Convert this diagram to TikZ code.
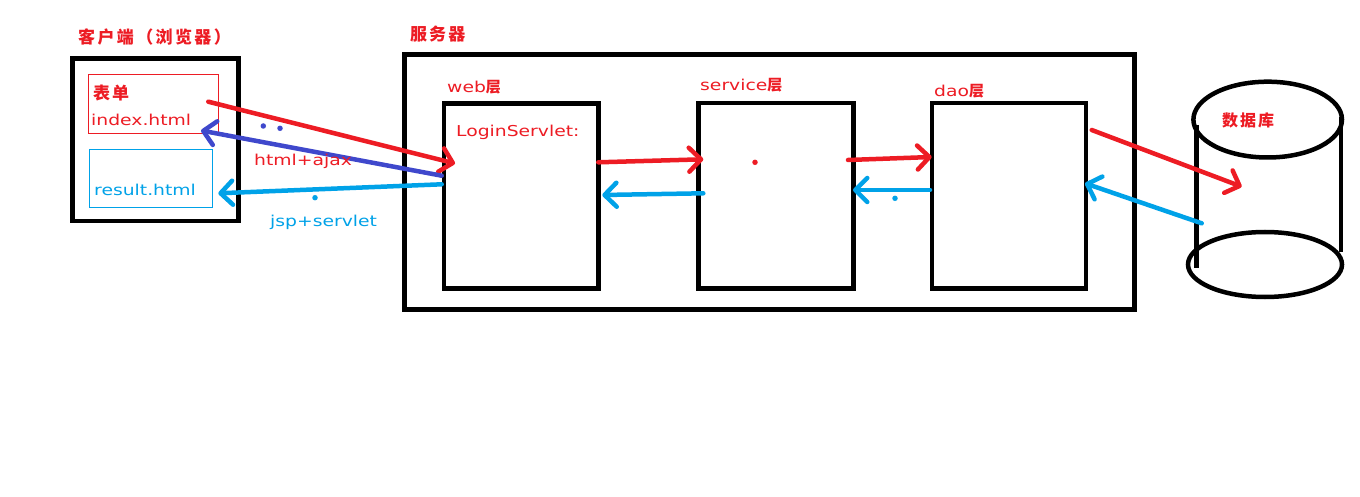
\documentclass[tikz,border=0pt]{standalone}
\usepackage{fontspec}
\setmainfont{DejaVu Sans}
\newfontfamily\latn[FakeStretch=1.25]{DejaVu Sans}
\newfontfamily\cjk[LetterSpace=12]{Noto Sans CJK SC}
\newfontfamily\cjkwide[LetterSpace=14]{Noto Sans CJK SC}
\usetikzlibrary{arrows.meta}
\definecolor{cred}{HTML}{ED1C24}
\definecolor{cblue}{HTML}{00A2E8}
\definecolor{cpurp}{HTML}{3F48CC}
\begin{document}
\begin{tikzpicture}[x=1pt,y=-1pt,
  box/.style={draw=black,line width=4.5pt,inner sep=0pt,outer sep=0pt,anchor=north west},
  thinbox/.style={draw,line width=1pt,inner sep=0pt,outer sep=0pt,anchor=north west},
  lbl/.style={inner sep=0pt,anchor=base west,font=\latn\fontsize{15}{15}\selectfont},
  cjklbl/.style={inner sep=0pt,anchor=west,text=cred,font=\cjk\bfseries\fontsize{17}{17}\selectfont},
  arr/.style={line width=4.5pt,line cap=round,-{Straight Barb[length=12pt,width=24pt,round]}},
  spot/.style={circle,fill,inner sep=0pt,minimum size=5.5pt}]
\useasboundingbox (0,0) rectangle (1360,497);
\fill[white] (0,0) rectangle (1360,497);

% client
\node[box,minimum width=165.8pt,minimum height=162.9pt] (client) at (72.5,58.3) {};
\node[thinbox,draw=cred,minimum width=130.4pt,minimum height=58.3pt] (form) at (88.3,75) {};
\node[thinbox,draw=cblue,minimum width=123.7pt,minimum height=57.7pt] (result) at (89,150) {};
\node[cjklbl,font=\cjkwide\bfseries\fontsize{17}{17}\selectfont] (clientlbl) at (78,36.7) {客户端（浏览器）};
\node[cjklbl] (formlbl) at (93,93.4) {表单};
\node[lbl,text=cred] (indexlbl) at (91,126) {index.html};
\node[lbl,text=cblue] (resultlbl) at (94,196) {result.html};

% server
\node[box,minimum width=730pt,minimum height=254.8pt] (server) at (404.7,54.5) {};
\node[cjklbl] (serverlbl) at (410,34.5) {服务器};
\node[box,minimum width=154.3pt,minimum height=184.6pt] (web) at (444,103.7) {};
\node[box,minimum width=154.6pt,minimum height=185.3pt] (service) at (698.7,103) {};
\node[box,minimum width=154pt,minimum height=185.3pt] (dao) at (932,103) {};
\node[lbl,text=cred] (weblbl) at (447,92.5) {web{\cjk\bfseries\fontsize{15}{15}\selectfont 层}};
\node[lbl,text=cred] (servicelbl) at (700,91) {service{\cjk\bfseries\fontsize{15}{15}\selectfont 层}};
\node[lbl,text=cred] (daolbl) at (934,97) {dao{\cjk\bfseries\fontsize{15}{15}\selectfont 层}};
\node[lbl,text=cred] (loginlbl) at (456,137) {LoginServlet:};

% database
\draw[line width=4.5pt] (1267.7,119.6) ellipse [x radius=74.3, y radius=37.9];
\draw[line width=4.5pt] (1265,264.5) ellipse [x radius=77, y radius=32.5];
\draw[line width=4.5pt] (1196.7,125) -- (1196.7,268);
\draw[line width=4.5pt] (1341,116.7) -- (1341,251.7);
\node[cjklbl,font=\cjk\bfseries\fontsize{16}{16}\selectfont] (dblbl) at (1222,120) {数据库};

% arrow end points
\coordinate (r1s) at (208.3,101.7);
\coordinate (r1e) at (455,163.5);
\coordinate (p1s) at (441.7,175.7);
\coordinate (p1e) at (201,130.5);
\coordinate (b1s) at (441.7,184.3);
\coordinate (b1e) at (218.3,193.3);
\coordinate (r2s) at (598.3,162.3);
\coordinate (r2e) at (703.3,159.3);
\coordinate (b2s) at (703.3,193.3);
\coordinate (b2e) at (602.3,195);
\coordinate (r3s) at (848,160);
\coordinate (r3e) at (931.7,157);
\coordinate (b3s) at (930,190);
\coordinate (b3e) at (853,190);
\coordinate (r4s) at (1091.7,130);
\coordinate (r4e) at (1241.7,186.7);
\coordinate (b4s) at (1201.7,223.3);
\coordinate (b4e) at (1085,183.3);

\draw[arr,cred] (r1s) -- (r1e);
\draw[arr,cpurp] (p1s) -- (p1e);
\draw[arr,cblue] (b1s) -- (b1e);
\draw[arr,cred] (r2s) -- (r2e);
\draw[arr,cblue] (b2s) -- (b2e);
\draw[arr,cred] (r3s) -- (r3e);
\draw[arr,cblue] (b3s) -- (b3e);
\draw[arr,cred] (r4s) -- (r4e);
\draw[arr,cblue] (b4s) -- (b4e);

\node[lbl,text=cred] (ajaxlbl) at (254,166) {html+ajax};
\node[lbl,text=cblue] (jsplbl) at (270,226) {jsp+servlet};

% stray dots
\node[spot,cpurp] (d1) at (263.3,126) {};
\node[spot,cpurp] (d2) at (280,128.3) {};
\node[spot,cblue] (d3) at (315,197.7) {};
\node[spot,cred] (d4) at (755,162.3) {};
\node[spot,cblue] (d5) at (895,198.3) {};
\end{tikzpicture}
\end{document}
